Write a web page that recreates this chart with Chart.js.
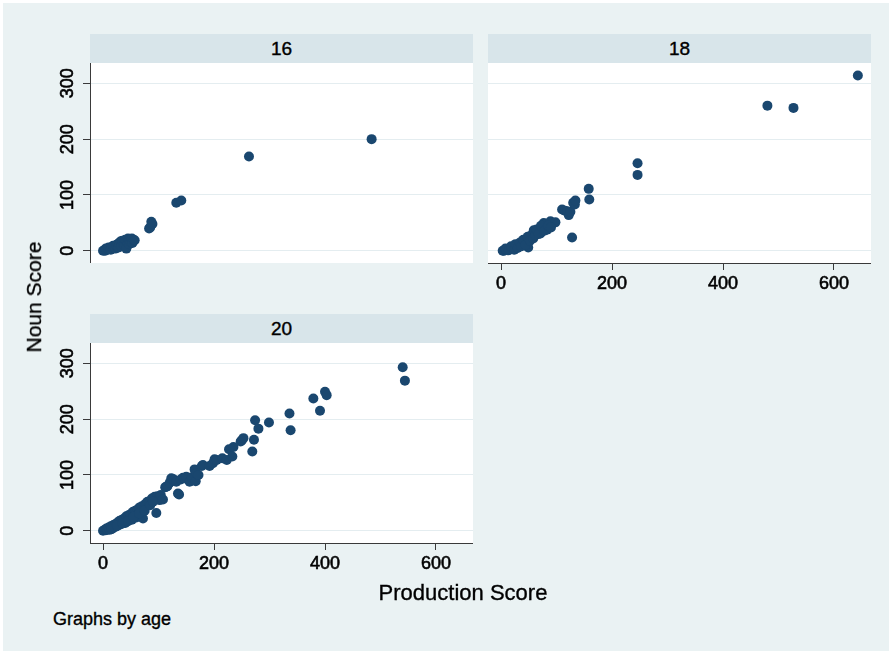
<!DOCTYPE html>
<html>
<head>
<meta charset="utf-8">
<script src="https://cdn.jsdelivr.net/npm/chart.js@4.4.1/dist/chart.umd.min.js"></script>
<style>
  html, body { margin: 0; padding: 0; background: #ffffff; }
  body { width: 892px; height: 654px; position: relative; overflow: hidden;
         font-family: "Liberation Sans", Arial, Helvetica, sans-serif; color: #000; }
  #region { position: absolute; left: 3px; top: 3px; width: 886px; height: 648px; background: #EAF2F3; }
  .band { position: absolute; background: #D8E5EA; text-align: center; font-size: 19px; line-height: 29px; height: 29px;
          -webkit-text-stroke: 0.4px #000; }
  .panel { position: absolute; }
  .title { position: absolute; white-space: nowrap; -webkit-text-stroke: 0.35px #000; }
</style>
</head>
<body>
<div id="region"></div>

<!-- panel header bands -->
<div class="band" style="left:90px; top:34px; width:383px;">16</div>
<div class="band" style="left:488px; top:34px; width:383px;">18</div>
<div class="band" style="left:90px; top:314px; width:383px;">20</div>

<div class="panel" style="left:40px; top:63px; width:433px; height:200px;"><canvas id="p16"></canvas></div>
<div class="panel" style="left:488px; top:63px; width:383px; height:240px;"><canvas id="p18"></canvas></div>
<div class="panel" style="left:40px; top:343px; width:433px; height:240px;"><canvas id="p20"></canvas></div>

<div class="title" style="left:34px; top:297px; font-size:21px; transform: translate(-50%,-50%) rotate(-90deg);">Noun Score</div>
<div class="title" style="left:463px; top:593px; font-size:22px; transform: translate(-50%,-50%);">Production Score</div>
<div class="title" style="left:53px; top:619px; font-size:18px; transform: translateY(-50%);">Graphs by age</div>

<script>
// Production score (x) and noun score (y) for each age group
const age16Production = [0, 2, 4, 5, 6, 8, 10, 10, 12, 14, 14, 16, 18, 18, 20, 22, 22, 24, 25, 26, 28, 28, 30, 30, 32, 33, 35, 36, 38, 38,
                         40, 42, 42, 44, 45, 46, 47, 48, 50, 50, 52, 52, 53, 55, 57, 83, 85, 87, 89, 132, 141, 263, 484];
const age16Noun       = [0, 1, 0, 4, 2, 3, 3, 6, 4, 5, 2, 6, 6, 9, 8, 9, 4, 10, 8, 12, 13, 6, 15, 11, 17, 8, 18, 13, 16, 10,
                         20, 19, 4, 15, 22, 19, 12, 20, 21, 16, 18, 22, 14, 20, 19, 40, 42, 52, 48, 86, 90, 169, 200];

const age18Production = [3, 5, 8, 10, 12, 15, 18, 20, 22, 25, 28, 30, 33, 35, 38, 40, 42, 45, 47, 50, 49, 52, 55, 56, 59, 60, 65, 70, 71, 75,
                         77, 80, 83, 89, 98, 110, 115, 119, 122, 125, 128, 130, 133, 134, 158, 159, 246, 246, 480, 527, 643,
                         8, 14, 18, 24, 26, 30, 34, 36, 40, 44, 48, 52, 58, 62, 64, 68, 72, 78, 85, 90];
const age18Noun       = [0, 0, 1, 2, 1, 3, 4, 5, 3, 7, 8, 10, 12, 9, 14, 15, 18, 17, 21, 24, 6, 26, 28, 24, 37, 33, 35, 40, 31, 42,
                         50, 48, 38, 53, 51, 74, 72, 71, 64, 70, 24, 86, 83, 90, 111, 92, 157, 136, 260, 256, 314,
                         4, 1, 8, 2, 12, 5, 15, 8, 20, 11, 25, 18, 22, 28, 38, 30, 45, 36, 45, 42];

const age20Production = [0, 3, 5, 6, 8, 10, 12, 14, 16, 18, 20, 22, 24, 26, 28, 30, 32, 34, 36, 38, 40, 42, 44, 46, 48, 50, 52, 54, 56, 58,
                         60, 62, 64, 66, 68, 70, 72, 74, 76, 78, 80, 84, 88, 93, 96, 98, 100, 102, 104, 108,
                         15, 25, 35, 45, 55, 65, 75, 85, 90,
                         112, 114, 116, 120, 123, 126, 128, 132, 135, 137, 140, 144, 147, 150, 156, 160, 165, 167, 168, 172, 178, 180,
                         192, 198, 201, 205, 215, 223, 227, 233, 235, 248, 250, 253, 269, 272, 274, 280, 299, 336, 338, 379, 391, 400, 403, 540, 544];
const age20Noun       = [0, 2, 1, 4, 2, 6, 2, 8, 4, 10, 6, 12, 8, 15, 10, 18, 12, 20, 16, 22, 14, 26, 18, 28, 22, 30, 20, 34, 26, 36,
                         24, 38, 30, 42, 28, 44, 22, 40, 48, 46, 52, 50, 58, 61, 32, 62, 58, 55, 64, 56,
                         3, 9, 13, 17, 25, 31, 36, 46, 52,
                         78, 79, 80, 86, 94, 93, 90, 88, 67, 65, 92, 95, 94, 97, 88, 96, 110, 89, 103, 100, 116, 118,
                         116, 121, 128, 127, 130, 127, 146, 133, 150, 160, 162, 166, 142, 163, 198, 183, 194, 210, 180, 237, 215, 249, 243, 293, 269];

const xTickValues = [0, 200, 400, 600];
const yTickValues = [0, 100, 200, 300];

const FONT = "'Liberation Sans', Arial, Helvetica, sans-serif";
const MARKER = '#1A476F';
const AXIS = '#3a3a3a';
const GRID = '#E4EDF0';
const X_RANGE = { min: -23.5, max: 666.7 };
const Y_RANGE = { min: -21.8, max: 336.4 };

function toPoints(xs, ys) {
  return xs.map((x, i) => ({ x: x, y: ys[i] }));
}

function fixedTicks(values) {
  return (scale) => { scale.ticks = values.map(v => ({ value: v })); };
}

// give each axis a fixed thickness and no extra label padding,
// so the plot areas line up across panels
function fixedSize(prop, size) {
  return (s) => {
    s[prop] = size;
    s.paddingTop = 0; s.paddingBottom = 0; s.paddingLeft = 0; s.paddingRight = 0;
  };
}

function makePanel(canvasId, xs, ys, showY, showX) {
  const tickFont = { family: FONT, size: 18 };
  const yScale = {
    type: 'linear', min: Y_RANGE.min, max: Y_RANGE.max,
    afterBuildTicks: fixedTicks(yTickValues),
    afterFit: fixedSize('width', showY ? 50 : 0),
    grid: { color: GRID, lineWidth: 1, drawTicks: showY, tickLength: 7, tickColor: AXIS, tickWidth: 1 },
    border: { display: showY, color: AXIS, width: 1 },
    ticks: {
      display: showY, autoSkip: false, minRotation: 90, maxRotation: 90,
      crossAlign: 'center', padding: 0, color: '#000',
      textStrokeColor: '#000', textStrokeWidth: 0.6,
      font: tickFont
    }
  };
  const xScale = {
    type: 'linear', min: X_RANGE.min, max: X_RANGE.max, display: showX,
    afterBuildTicks: fixedTicks(xTickValues),
    afterFit: fixedSize('height', showX ? 40 : 0),
    grid: { drawOnChartArea: false, drawTicks: true, tickLength: 7, tickColor: AXIS, tickWidth: 1 },
    border: { display: true, color: AXIS, width: 1 },
    ticks: {
      autoSkip: false, maxRotation: 0, padding: 3, color: '#000',
      textStrokeColor: '#000', textStrokeWidth: 0.6,
      font: tickFont
    }
  };
  return new Chart(document.getElementById(canvasId), {
    type: 'scatter',
    data: {
      datasets: [{
        data: toPoints(xs, ys),
        pointRadius: 5, pointHoverRadius: 5,
        backgroundColor: MARKER, borderWidth: 0
      }]
    },
    options: {
      responsive: true, maintainAspectRatio: false, animation: false,
      layout: { padding: 0, autoPadding: false },
      plugins: { legend: { display: false }, tooltip: { enabled: false } },
      scales: { x: xScale, y: yScale }
    },
    plugins: [{
      id: 'whitePlotArea',
      beforeDraw(chart) {
        const a = chart.chartArea;
        const ctx = chart.ctx;
        ctx.save();
        ctx.fillStyle = '#ffffff';
        ctx.fillRect(a.left, a.top, a.right - a.left, a.bottom - a.top);
        ctx.restore();
      }
    }]
  });
}

makePanel('p16', age16Production, age16Noun, true, false);
makePanel('p18', age18Production, age18Noun, false, true);
makePanel('p20', age20Production, age20Noun, true, true);
</script>
</body>
</html>
